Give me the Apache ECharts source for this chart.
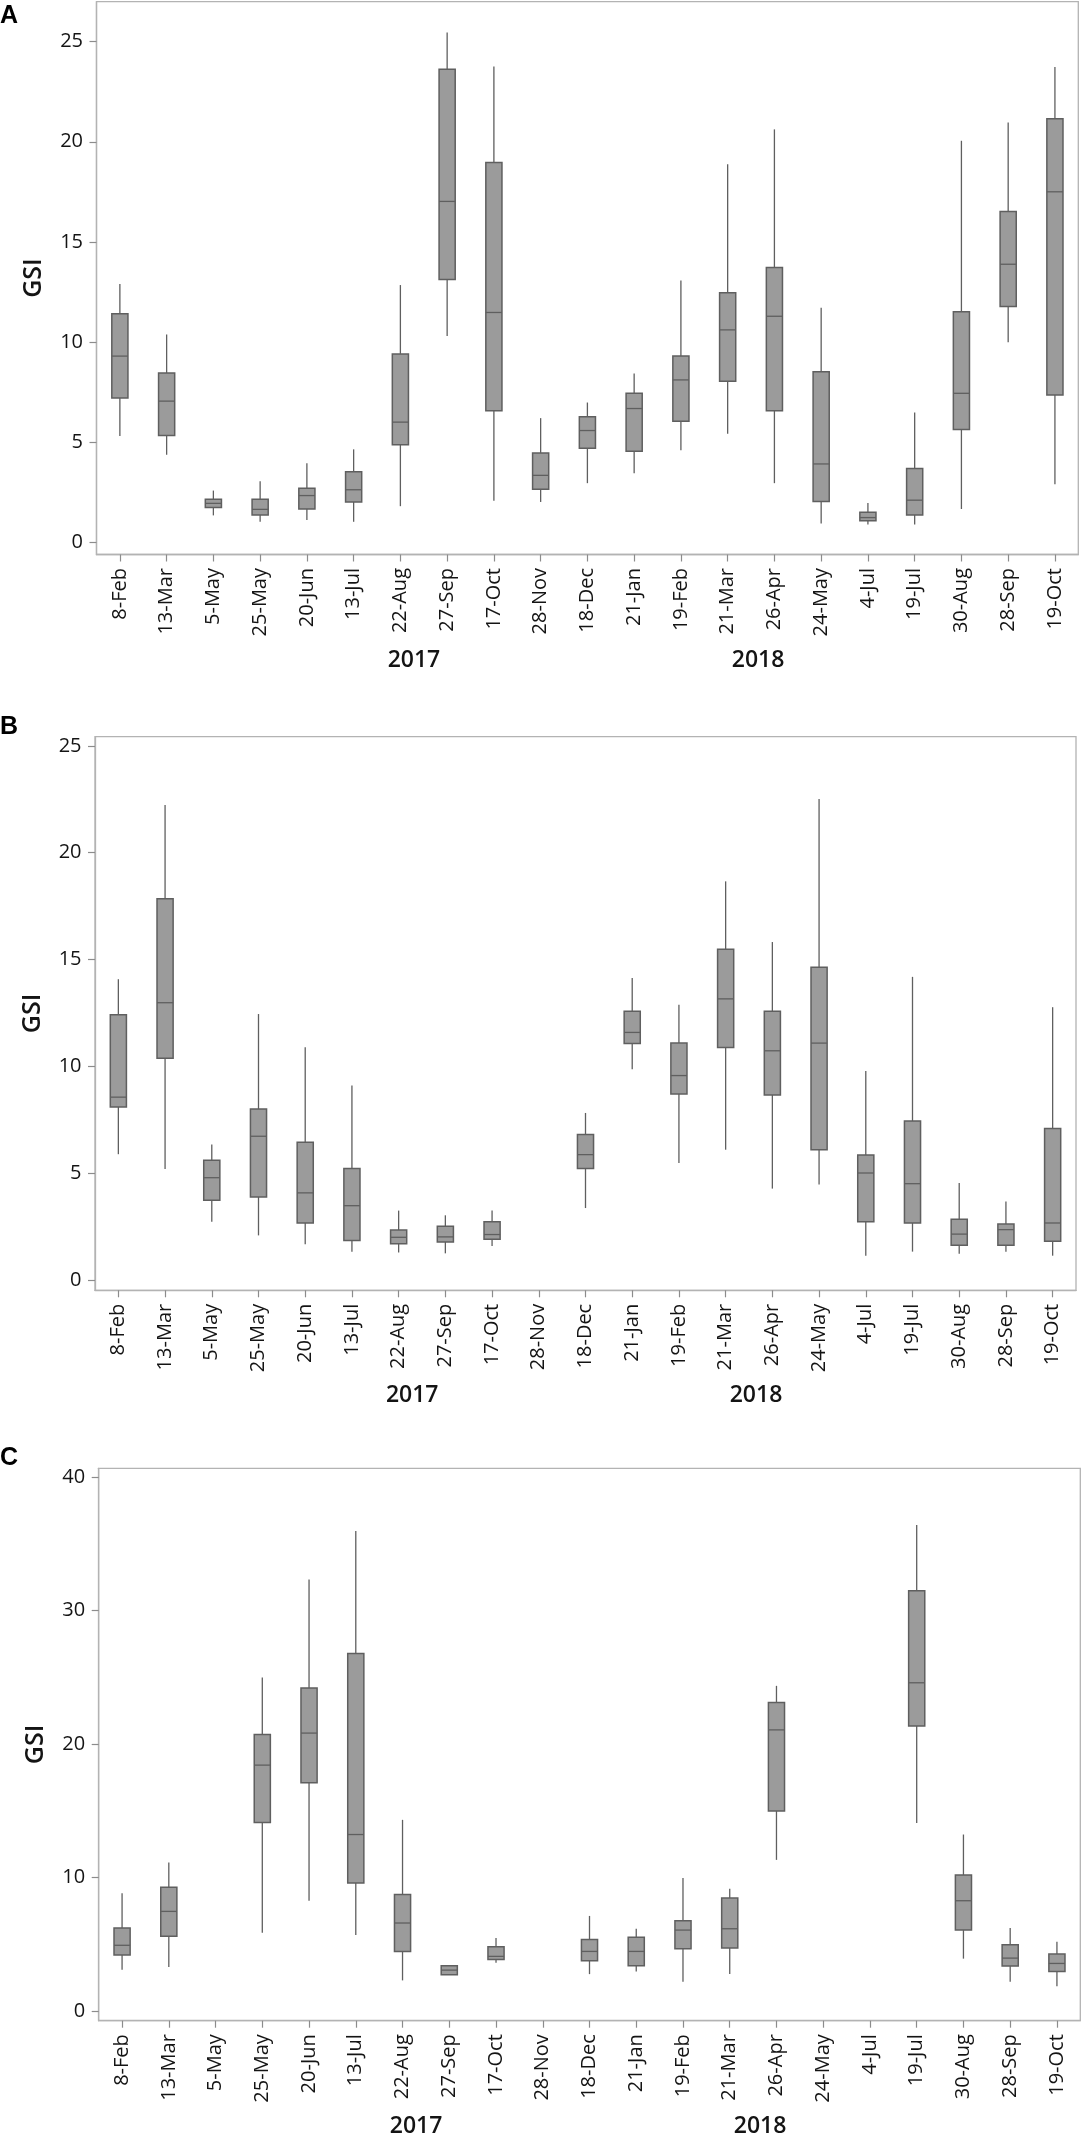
<!DOCTYPE html>
<html><head><meta charset="utf-8">
<script src="https://cdn.jsdelivr.net/npm/echarts@6/dist/echarts.min.js"></script>
<style>html,body{margin:0;padding:0;background:#fff;} #c{width:1083px;height:2139px;}</style>
</head><body><div id="c"></div>
<script>
const categories = ['8-Feb','13-Mar','5-May','25-May','20-Jun','13-Jul','22-Aug','27-Sep','17-Oct','28-Nov','18-Dec','21-Jan','19-Feb','21-Mar','26-Apr','24-May','4-Jul','19-Jul','30-Aug','28-Sep','19-Oct'];
const years = ['2017', '2018'];
const panelLetters = ['A', 'B', 'C'];
const yTicksAB = [0, 5, 10, 15, 20, 25];
const yTicksC = [0, 10, 20, 30, 40];
// each entry: [whisker low, Q1, median, Q3, whisker high]; null = no sample
const gsiA = [
 [5.30, 7.20, 9.29, 11.40, 12.89],
 [4.36, 5.32, 7.04, 8.44, 10.37],
 [1.33, 1.72, 1.93, 2.13, 2.57],
 [1.01, 1.35, 1.63, 2.13, 3.03],
 [1.10, 1.65, 2.32, 2.68, 3.94],
 [1.01, 2.00, 2.61, 3.51, 4.63],
 [1.79, 4.86, 5.99, 9.40, 12.84],
 [10.30, 13.12, 17.02, 23.62, 25.46],
 [2.06, 6.56, 11.47, 18.97, 23.76],
 [2.00, 2.64, 3.33, 4.45, 6.19],
 [2.94, 4.68, 5.57, 6.26, 6.97],
 [3.44, 4.54, 6.67, 7.43, 8.42],
 [4.59, 6.03, 8.10, 9.29, 13.07],
 [5.41, 8.03, 10.60, 12.45, 18.88],
 [2.94, 6.56, 11.28, 13.72, 20.62],
 [0.92, 2.02, 3.90, 8.51, 11.70],
 [0.87, 1.06, 1.22, 1.49, 1.95],
 [0.87, 1.35, 2.09, 3.67, 6.47],
 [1.65, 5.62, 7.43, 11.51, 20.05],
 [9.98, 11.77, 13.88, 16.51, 20.96],
 [2.89, 7.34, 17.50, 21.15, 23.74]
];
const gsiB = [
 [5.89, 8.10, 8.56, 12.42, 14.08],
 [5.20, 10.38, 12.98, 17.84, 22.23],
 [2.73, 3.74, 4.79, 5.61, 6.34],
 [2.09, 3.89, 6.73, 8.00, 12.45],
 [1.68, 2.67, 4.08, 6.45, 10.90],
 [1.33, 1.85, 3.48, 5.22, 9.11],
 [1.29, 1.70, 2.00, 2.34, 3.25],
 [1.25, 1.78, 2.02, 2.52, 3.03],
 [1.59, 1.91, 2.13, 2.73, 3.25],
 null,
 [3.37, 5.22, 5.87, 6.81, 7.82],
 [9.87, 11.07, 11.59, 12.58, 14.14],
 [5.48, 8.71, 9.57, 11.09, 12.88],
 [6.10, 10.88, 13.16, 15.48, 18.66],
 [4.28, 8.66, 10.73, 12.58, 15.82],
 [4.47, 6.10, 11.09, 14.64, 22.51],
 [1.14, 2.73, 5.01, 5.85, 9.78],
 [1.33, 2.67, 4.51, 7.44, 14.19],
 [1.23, 1.63, 2.15, 2.84, 4.54],
 [1.33, 1.63, 2.36, 2.62, 3.68],
 [1.14, 1.81, 2.67, 7.09, 12.77]
];
const gsiC = [
 [3.10, 4.20, 4.93, 6.23, 8.83],
 [3.30, 5.60, 7.47, 9.27, 11.13],
 null,
 [5.87, 14.13, 18.43, 20.73, 25.00],
 [8.27, 17.10, 20.83, 24.20, 32.33],
 [5.70, 9.60, 13.23, 26.80, 35.97],
 [2.30, 4.47, 6.60, 8.73, 14.33],
 [2.73, 2.73, 3.07, 3.40, 3.40],
 [3.63, 3.87, 4.10, 4.83, 5.47],
 null,
 [2.77, 3.77, 4.47, 5.37, 7.13],
 [2.97, 3.40, 4.47, 5.53, 6.17],
 [2.20, 4.67, 6.07, 6.77, 9.97],
 [2.77, 4.73, 6.17, 8.47, 9.17],
 [11.33, 15.00, 21.07, 23.13, 24.37],
 null,
 null,
 [14.10, 21.37, 24.60, 31.50, 36.43],
 [3.93, 6.07, 8.27, 10.20, 13.23],
 [2.20, 3.37, 3.97, 4.97, 6.23],
 [1.87, 2.97, 3.57, 4.27, 5.20]
];

const panels = [
  {data: gsiA, ticks: yTicksAB, min: -0.625, max: 27.0, grid: {left: 96.5, top: 1.7, width: 981.8, height: 552.8}},
  {data: gsiB, ticks: yTicksAB, min: -0.48, max: 25.43, grid: {left: 95, top: 736.7, width: 981, height: 553.6}},
  {data: gsiC, ticks: yTicksC, min: -0.72, max: 40.67, grid: {left: 98.7, top: 1468.3, width: 981.6, height: 552.4}}
];
const yearPos = [6.29, 13.65];
const FONT = '"Open Sans", "Noto Sans", sans-serif';
const frameColor = '#b3b3b3';
const tickColor = '#8c8c8c';
const lineColor = '#5f5f5f';

function renderBox(params, api) {
  const idx = api.value(0);
  const lo = api.coord([idx, api.value(1)]);
  const q1 = api.coord([idx, api.value(2)]);
  const md = api.coord([idx, api.value(3)]);
  const q3 = api.coord([idx, api.value(4)]);
  const hi = api.coord([idx, api.value(5)]);
  const bw = api.size([1, 0])[0] * 0.345;
  const x = lo[0];
  const ls = {stroke: lineColor, lineWidth: 1.3};
  return {type: 'group', children: [
    {type: 'line', shape: {x1: x, y1: hi[1], x2: x, y2: q3[1]}, style: ls},
    {type: 'line', shape: {x1: x, y1: q1[1], x2: x, y2: lo[1]}, style: ls},
    {type: 'rect', shape: {x: x - bw / 2, y: q3[1], width: bw, height: q1[1] - q3[1]},
      style: {fill: '#9b9b9b', stroke: lineColor, lineWidth: 1.5}},
    {type: 'line', shape: {x1: x - bw / 2, y1: md[1], x2: x + bw / 2, y2: md[1]}, style: ls}
  ]};
}

const grids = [], xAxes = [], yAxes = [], series = [], graphics = [];
panels.forEach((p, i) => {
  grids.push(Object.assign({show: true, borderColor: frameColor, borderWidth: 1.3, backgroundColor: 'transparent'}, p.grid));
  xAxes.push({
    type: 'category', gridIndex: i, data: categories, boundaryGap: true, position: 'bottom',
    axisLine: {show: true, onZero: false, lineStyle: {color: frameColor, width: 1.3}},
    axisTick: {show: true, alignWithLabel: true, length: 7, lineStyle: {color: tickColor, width: 1.2}},
    axisLabel: {interval: 0, rotate: 90, margin: 13.5, fontSize: 20, fontFamily: FONT, color: '#141414'},
    splitLine: {show: false}
  });
  yAxes.push({
    type: 'value', gridIndex: i, min: p.min, max: p.max, position: 'left',
    axisLine: {show: true, onZero: false, lineStyle: {color: frameColor, width: 1.3}},
    axisTick: {show: true, length: 7, customValues: p.ticks, lineStyle: {color: tickColor, width: 1.2}},
    axisLabel: {customValues: p.ticks, margin: 13.5, fontSize: 20, fontFamily: FONT, color: '#141414'},
    splitLine: {show: false},
    name: 'GSI', nameLocation: 'middle', nameGap: 50,
    nameTextStyle: {fontSize: 25, fontWeight: 600, fontFamily: FONT, color: '#141414'}
  });
  series.push({
    type: 'custom', xAxisIndex: i, yAxisIndex: i, renderItem: renderBox, clip: false,
    encode: {x: 0, y: [1, 2, 3, 4, 5]},
    data: p.data.map((d, k) => d ? [k].concat(d) : null).filter(d => d)
  });
  graphics.push({type: 'text', left: 0, top: p.grid.top + (i === 0 ? 2 : -22.5),
    style: {text: panelLetters[i], fontSize: 25, fontWeight: 'bold', fontFamily: '"Liberation Sans", Arial, sans-serif', fill: '#000'}});
});
panels.forEach((p, i) => {
  xAxes.push({
    type: 'value', gridIndex: i, min: -0.5, max: 20.5, position: 'bottom',
    axisLine: {show: false, onZero: false}, axisTick: {show: false}, splitLine: {show: false},
    axisLabel: {customValues: yearPos, margin: 94, fontSize: 23, fontWeight: 600, fontFamily: FONT, color: '#141414',
      formatter: v => years[v < 10 ? 0 : 1]}
  });
});

const chart = echarts.init(document.getElementById('c'), null, {renderer: 'canvas'});
chart.setOption({
  animation: false,
  backgroundColor: '#fff',
  grid: grids, xAxis: xAxes, yAxis: yAxes, series: series, graphic: graphics
});
</script></body></html>
